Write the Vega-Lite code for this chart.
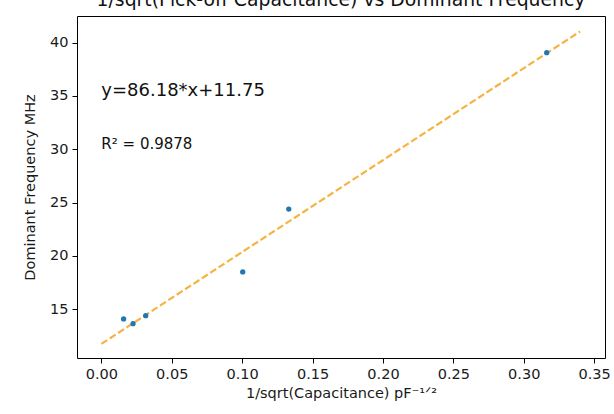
{
  "$schema": "https://vega.github.io/schema/vega-lite/v6.json",
  "width": 528,
  "height": 342,
  "autosize": {"type": "none"},
  "padding": {"left": 77, "top": 16, "right": 9, "bottom": 56},
  "background": "white",
  "title": {
    "text": "1/sqrt(Pick-off Capacitance) vs Dominant Frequency",
    "fontSize": 18.8,
    "font": "DejaVu Sans",
    "fontWeight": "normal",
    "color": "#111",
    "baseline": "alphabetic",
    "offset": 0,
    "dy": 9,
    "anchor": "middle",
    "frame": "group"
  },
  "config": {
    "view": {"stroke": "#000", "strokeWidth": 1},
    "font": "DejaVu Sans",
    "axis": {
      "grid": false,
      "domain": false,
      "tickColor": "#000",
      "tickSize": 5,
      "labelFont": "DejaVu Sans",
      "labelFontSize": 14.5,
      "labelColor": "#1a1a1a",
      "labelPadding": 4,
      "titleFont": "DejaVu Sans",
      "titleFontSize": 14.5,
      "titleFontWeight": "normal",
      "titleColor": "#1a1a1a"
    }
  },
  "layer": [
    {
      "data": {"values": [{"x": 0, "y": 11.75}, {"x": 0.34, "y": 41.05}]},
      "mark": {"type": "line", "color": "#f5b342", "strokeWidth": 2.2, "strokeDash": [7, 3]},
      "encoding": {
        "x": {"field": "x", "type": "quantitative", "scale": {"domain": [-0.0173, 0.3577], "nice": false, "zero": false},
          "axis": {"values": [0, 0.05, 0.1, 0.15, 0.2, 0.25, 0.3, 0.35], "format": ".2f", "title": "1/sqrt(Capacitance) pF⁻¹ᐟ²", "titlePadding": 6}},
        "y": {"field": "y", "type": "quantitative", "scale": {"domain": [10.43, 42.5], "nice": false, "zero": false},
          "axis": {"values": [15, 20, 25, 30, 35, 40], "title": "Dominant Frequency MHz", "titlePadding": 12}}
      }
    },
    {
      "data": {"values": [
        {"x": 0.0158, "y": 14.09},
        {"x": 0.0225, "y": 13.65},
        {"x": 0.0315, "y": 14.4},
        {"x": 0.1004, "y": 18.5},
        {"x": 0.1331, "y": 24.4},
        {"x": 0.3163, "y": 39.06}
      ]},
      "mark": {"type": "point", "filled": true, "color": "#1f77b4", "size": 28, "opacity": 1},
      "encoding": {
        "x": {"field": "x", "type": "quantitative"},
        "y": {"field": "y", "type": "quantitative"}
      }
    },
    {
      "data": {"values": [{"x": 0, "y": 35, "label": "y=86.18*x+11.75"}]},
      "mark": {"type": "text", "align": "left", "baseline": "alphabetic", "fontSize": 18, "font": "DejaVu Sans", "color": "#111"},
      "encoding": {
        "x": {"field": "x", "type": "quantitative"},
        "y": {"field": "y", "type": "quantitative"},
        "text": {"field": "label"}
      }
    },
    {
      "data": {"values": [{"x": 0, "y": 30, "label": "R² = 0.9878"}]},
      "mark": {"type": "text", "align": "left", "baseline": "alphabetic", "fontSize": 15, "font": "DejaVu Sans", "color": "#111"},
      "encoding": {
        "x": {"field": "x", "type": "quantitative"},
        "y": {"field": "y", "type": "quantitative"},
        "text": {"field": "label"}
      }
    }
  ]
}
